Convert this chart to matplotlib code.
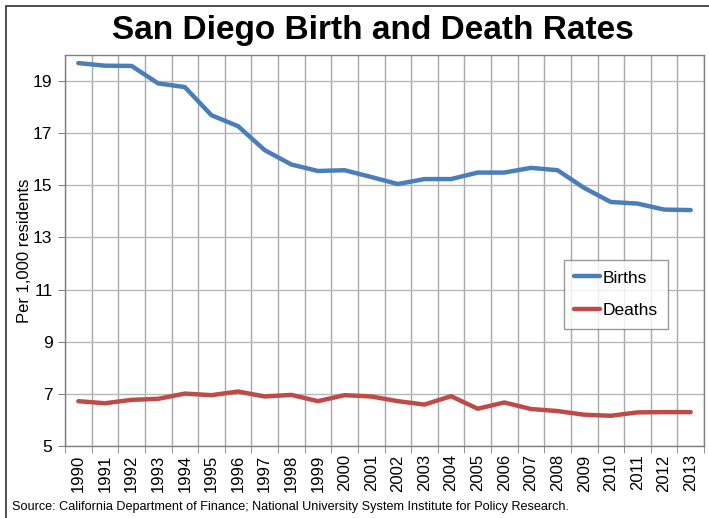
import matplotlib
matplotlib.use("Agg")
import matplotlib.pyplot as plt
from matplotlib.patches import Rectangle
import numpy as np

years = [str(y) for y in range(1990, 2014)]
births = [19.69, 19.59, 19.58, 18.91, 18.77, 17.69, 17.27, 16.35, 15.80, 15.55, 15.58, 15.32,
          15.05, 15.24, 15.24, 15.49, 15.49, 15.67, 15.58, 14.90, 14.36, 14.30, 14.07, 14.05]
deaths = [6.72, 6.64, 6.77, 6.81, 7.01, 6.95, 7.09, 6.90, 6.96, 6.72, 6.95, 6.90,
          6.72, 6.59, 6.91, 6.43, 6.67, 6.42, 6.34, 6.20, 6.16, 6.29, 6.30, 6.30]
yticks = [5, 7, 9, 11, 13, 15, 17, 19]

plt.rcParams['font.family'] = ['Liberation Sans', 'DejaVu Sans']

fig = plt.figure(figsize=(7.09, 5.18), dpi=100)
ax = fig.add_axes([65/709, 1-446/518, (704-65)/709, (446-55)/518])

x = np.arange(len(years))
ax.plot(x, births, color='#4A7EBB', lw=3.2, solid_capstyle='round', solid_joinstyle='round', label='Births')
ax.plot(x, deaths, color='#BE4B48', lw=3.2, solid_capstyle='round', solid_joinstyle='round', label='Deaths')

ax.set_xlim(-0.5, len(years) - 0.5)
ax.set_ylim(5, 20)
ax.set_yticks(yticks)
ax.set_yticklabels([str(v) for v in yticks], fontsize=12.5)
ax.set_xticks(x)
ax.set_xticklabels(years, rotation=90, fontsize=12)
ax.set_xticks(np.arange(-0.5, len(years)), minor=True)
ax.tick_params(axis='x', which='major', length=0, pad=6)
ax.tick_params(axis='x', which='minor', length=5, color='#808080', direction='out')
ax.tick_params(axis='y', length=5, color='#808080', direction='out', pad=4)
ax.grid(axis='y', which='major', color='#B8B8B8', lw=1)
ax.grid(axis='x', which='minor', color='#A8A8A8', lw=1)
ax.set_axisbelow(True)
for s in ax.spines.values():
    s.set_color('#808080')
    s.set_linewidth(1)
ax.set_ylabel('Per 1,000 residents', fontsize=12, labelpad=1)

leg = ax.legend(loc='upper left', bbox_to_anchor=((564-65)/639, 1-(260-55)/391), fontsize=12.5,
                frameon=True, fancybox=False, edgecolor='#808080', handlelength=1.5,
                handletextpad=0.1, labelspacing=1.0, borderpad=0.6, borderaxespad=0)
leg.get_frame().set_linewidth(1)

fig.text(373/709, 1-30/518, 'San Diego Birth and Death Rates', ha='center', va='center',
         fontsize=24, fontweight='bold')
fig.text(12/709, 1-507/518, 'Source: California Department of Finance; National University System Institute for Policy Research.',
         ha='left', va='center', fontsize=9.1)

fig.patches.append(Rectangle((6/709, -0.1), 1.2, 1.1 - 6/518 + 0.0, transform=fig.transFigure,
                             fill=False, edgecolor='#404040', lw=1.3))

fig.savefig('out.png', dpi=100)
